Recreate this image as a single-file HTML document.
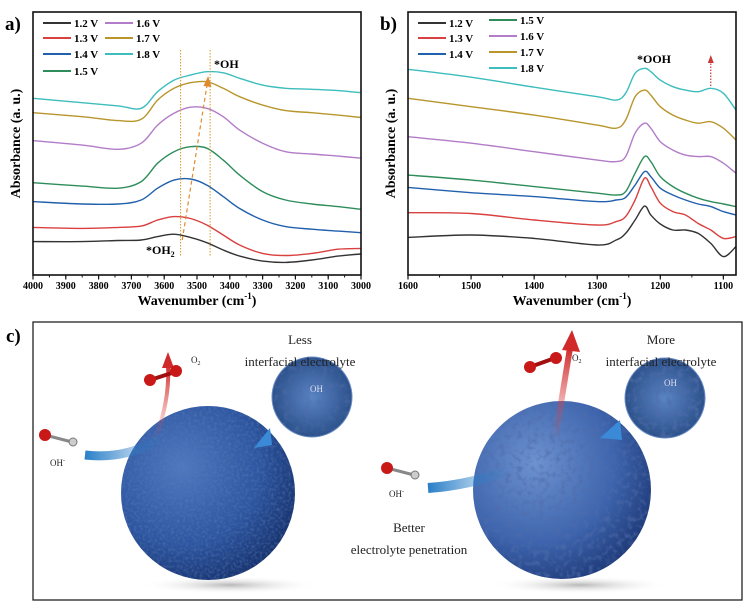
<!DOCTYPE html>
<html><head><meta charset="utf-8">
<style>
body{margin:0;background:#fff;}
svg{display:block;font-family:"Liberation Serif",serif;}
.tk{font-size:10px;font-weight:bold;text-anchor:middle;}
.lg{font-size:11px;font-weight:bold;}
.ax{font-size:14px;font-weight:bold;}
</style></head>
<body>
<svg id="fig" width="750" height="612" viewBox="0 0 750 612">
<defs>
<radialGradient id="sph1" cx="35%" cy="35%" r="75%">
<stop offset="0" stop-color="#4f78c0"/><stop offset="0.6" stop-color="#2d55a0"/><stop offset="1" stop-color="#142d66"/></radialGradient>
<radialGradient id="sph2" cx="35%" cy="35%" r="75%">
<stop offset="0" stop-color="#6e92cf"/><stop offset="0.6" stop-color="#3d64ad"/><stop offset="1" stop-color="#1b3572"/></radialGradient>
<radialGradient id="zoomg" cx="50%" cy="50%" r="60%">
<stop offset="0" stop-color="#5a84c4"/><stop offset="1" stop-color="#23477f"/></radialGradient>
<radialGradient id="shadow" cx="50%" cy="50%" r="50%">
<stop offset="0" stop-color="#999" stop-opacity="0.7"/><stop offset="1" stop-color="#fff" stop-opacity="0"/></radialGradient>
<linearGradient id="redarrow" x1="0" y1="1" x2="0" y2="0">
<stop offset="0" stop-color="#e05050" stop-opacity="0"/><stop offset="1" stop-color="#d02a2a"/></linearGradient>
<linearGradient id="bluearrow" x1="0" y1="0" x2="1" y2="0">
<stop offset="0" stop-color="#2a7fc8"/><stop offset="1" stop-color="#2a7fc8" stop-opacity="0"/></linearGradient>
<filter id="tex1" x="0" y="0" width="100%" height="100%">
<feTurbulence type="fractalNoise" baseFrequency="0.35" numOctaves="2" seed="3"/>
<feColorMatrix type="matrix" values="0 0 0 0 0.1  0 0 0 0 0.2  0 0 0 0 0.45  0 0 0 -2.2 1.3"/>
<feComposite in2="SourceGraphic" operator="in"/>
</filter>
<filter id="tex2" x="0" y="0" width="100%" height="100%">
<feTurbulence type="fractalNoise" baseFrequency="0.18" numOctaves="2" seed="7"/>
<feColorMatrix type="matrix" values="0 0 0 0 0.08  0 0 0 0 0.15  0 0 0 0 0.4  0 0 0 -3 1.6"/>
<feComposite in2="SourceGraphic" operator="in"/>
</filter>
</defs>
<g id="panelA"></g>
<g id="panelB"></g>

<!-- Panel c -->
<g>
<text x="6" y="342" font-size="19" font-weight="bold">c)</text>
<rect x="33" y="322" width="709" height="278" fill="#fff" stroke="#222" stroke-width="1.3"/>
<ellipse cx="230" cy="585" rx="90" ry="9" fill="url(#shadow)"/>
<ellipse cx="580" cy="585" rx="90" ry="9" fill="url(#shadow)"/>
<circle cx="208" cy="493" r="87" fill="url(#sph1)"/>
<circle cx="208" cy="493" r="87" fill="#000" filter="url(#tex1)" opacity="0.5"/>
<circle cx="562" cy="490" r="89" fill="url(#sph2)"/>
<circle cx="562" cy="490" r="89" fill="#000" filter="url(#tex2)" opacity="0.6"/>
<path d="M85 455 Q130 460 165 435" stroke="url(#bluearrow)" stroke-width="9" fill="none"/>
<path d="M155 440 Q170 400 168 365" stroke="url(#redarrow)" stroke-width="4" fill="none"/>
<polygon points="162,368 174,368 168,352" fill="#d02a2a"/>
<path d="M428 488 Q470 485 510 470" stroke="url(#bluearrow)" stroke-width="10" fill="none"/>
<path d="M555 440 L570 348" stroke="url(#redarrow)" stroke-width="6" fill="none"/>
<polygon points="562,350 580,352 572,330" fill="#d02a2a"/>
<polygon points="254,448 270,428 272,445" fill="#3a8ad8"/>
<polygon points="600,438 620,420 622,440" fill="#3a8ad8"/>
<circle cx="312" cy="397" r="40" fill="url(#zoomg)" stroke="#6a8cc4"/>
<circle cx="312" cy="397" r="40" fill="#000" filter="url(#tex2)" opacity="0.5"/>
<circle cx="665" cy="398" r="40" fill="url(#zoomg)" stroke="#6a8cc4"/>
<circle cx="665" cy="398" r="40" fill="#000" filter="url(#tex2)" opacity="0.7"/>
<text x="310" y="392" font-size="9" fill="#dde">OH</text>
<text x="664" y="386" font-size="9" fill="#dde">OH</text>
<g><line x1="150" y1="380" x2="175" y2="372" stroke="#a01010" stroke-width="4"/><circle cx="150" cy="380" r="6" fill="#c81818"/><circle cx="176" cy="371" r="6" fill="#c81818"/></g>
<g><line x1="530" y1="367" x2="555" y2="358" stroke="#a01010" stroke-width="4"/><circle cx="530" cy="367" r="6" fill="#c81818"/><circle cx="556" cy="358" r="6" fill="#c81818"/></g>
<g><line x1="45" y1="435" x2="72" y2="442" stroke="#888" stroke-width="3"/><circle cx="45" cy="435" r="6" fill="#c81818"/><circle cx="73" cy="442" r="4" fill="#ccc" stroke="#777"/></g>
<g><line x1="387" y1="468" x2="414" y2="475" stroke="#888" stroke-width="3"/><circle cx="387" cy="468" r="6" fill="#c81818"/><circle cx="415" cy="475" r="4" fill="#ccc" stroke="#777"/></g>
<g font-size="13" fill="#222" text-anchor="middle">
<text x="300" y="344">Less</text>
<text x="300" y="366">interfacial electrolyte</text>
<text x="661" y="344">More</text>
<text x="661" y="366">interfacial electrolyte</text>
<text x="409" y="532">Better</text>
<text x="409" y="554">electrolyte penetration</text>
</g>
<g font-size="9" fill="#222">
<text x="191" y="363">O<tspan font-size="6" dy="2">2</tspan></text>
<text x="572" y="361">O<tspan font-size="6" dy="2">2</tspan></text>
<text x="50" y="466">OH<tspan font-size="6" dy="-4">-</tspan></text>
<text x="389" y="497">OH<tspan font-size="6" dy="-4">-</tspan></text>
</g>
</g>
</svg>
<script>
// ---------- Panel a data ----------
const waveA = [4000,3850,3740,3670,3620,3570,3520,3470,3420,3370,3300,3230,3150,3070,3000];
const a12 = [.127,.127,.131,.133,.146,.155,.143,.123,.095,.072,.053,.048,.057,.072,.080];
const a13 = [.181,.177,.181,.186,.209,.222,.215,.190,.152,.114,.082,.074,.082,.098,.101];
const a14 = [.279,.270,.270,.285,.330,.361,.365,.342,.298,.253,.209,.184,.174,.167,.161];
const a15 = [.351,.338,.330,.355,.425,.469,.488,.482,.437,.380,.317,.285,.270,.260,.250];
const a16 = [.511,.494,.478,.501,.570,.615,.638,.634,.602,.551,.501,.469,.460,.452,.444];
const a17 = [.617,.602,.587,.592,.665,.710,.731,.735,.710,.678,.646,.625,.617,.608,.599];
const a18 = [.672,.655,.643,.634,.697,.741,.760,.773,.769,.748,.722,.710,.706,.701,.693];
const ticksA = [4000,3900,3800,3700,3600,3500,3400,3300,3200,3100,3000];
// ---------- Panel b data ----------
const waveB = [1600,1500,1400,1300,1270,1255,1240,1225,1215,1200,1180,1160,1140,1120,1100,1080];
const b12 = [.143,.152,.139,.114,.133,.158,.209,.262,.228,.194,.171,.171,.158,.120,.070,.108];
const b13 = [.237,.234,.209,.190,.203,.222,.285,.368,.336,.273,.241,.228,.196,.171,.139,.146];
const b14 = [.333,.313,.298,.279,.285,.295,.342,.393,.374,.330,.304,.285,.270,.260,.241,.228];
const b15 = [.380,.361,.336,.311,.304,.317,.387,.450,.431,.374,.336,.311,.292,.279,.270,.260];
const b16 = [.526,.501,.469,.437,.431,.450,.539,.577,.558,.507,.475,.456,.450,.450,.425,.387];
const b17 = [.672,.640,.608,.570,.558,.589,.678,.703,.684,.640,.608,.589,.577,.583,.558,.513];
const b18 = [.782,.752,.714,.678,.665,.691,.767,.786,.773,.741,.716,.703,.697,.710,.691,.627];
const ticksB = [1600,1500,1400,1300,1200,1100];
const seriesLabels = ["1.2 V","1.3 V","1.4 V","1.5 V","1.6 V","1.7 V","1.8 V"];
const colors = ["#333333","#d8413f","#2160ad","#2e8d5a","#b27cc8","#b8962c","#3dbdbd"];

const NS="http://www.w3.org/2000/svg";
function mk(tag,attrs,parent){const e=document.createElementNS(NS,tag);for(const k in attrs)e.setAttribute(k,attrs[k]);parent.appendChild(e);return e;}
function smooth(pts){let d="M"+pts[0][0].toFixed(1)+" "+pts[0][1].toFixed(1);
 for(let i=0;i<pts.length-1;i++){const p0=pts[Math.max(0,i-1)],p1=pts[i],p2=pts[i+1],p3=pts[Math.min(pts.length-1,i+2)];
  const c1=[p1[0]+(p2[0]-p0[0])/6,p1[1]+(p2[1]-p0[1])/6],c2=[p2[0]-(p3[0]-p1[0])/6,p2[1]-(p3[1]-p1[1])/6];
  d+=" C"+c1[0].toFixed(1)+" "+c1[1].toFixed(1)+" "+c2[0].toFixed(1)+" "+c2[1].toFixed(1)+" "+p2[0].toFixed(1)+" "+p2[1].toFixed(1);}
 return d;}

function panel(g,x0,x1,w0,w1,wave,series,ticks,label,minorStep,legendPos){
 const yTop=12,yBot=275;
 const X=w=>x0+(w0-w)/(w0-w1)*(x1-x0);
 const Y=v=>yBot-v*(yBot-yTop);
 const lab=mk('text',{x:x0-28,y:30,'font-size':19,'font-weight':'bold'},g);lab.textContent=label;
 
 
 series.forEach((s,i)=>{
  const p=mk('path',{d:smooth(wave.map((w,j)=>[X(w),Y(s[j])])),fill:'none',stroke:colors[i],'stroke-width':1.4},g);
  
  
 });
 const fr=mk('rect',{x:x0,y:yTop,width:x1-x0,height:yBot-yTop,fill:'none',stroke:'#111','stroke-width':1.6},g);
 
 
 for(let w=w0;w>=w1-0.1;w-=minorStep){const xx=X(w);if(xx>x1+0.5)break;mk('line',{x1:xx,x2:xx,y1:yBot,y2:yBot+2.5,stroke:'#111','stroke-width':1},g);}
 ticks.forEach(t=>{const xx=X(t);
  mk('line',{x1:xx,x2:xx,y1:yBot,y2:yBot+4.5,stroke:'#111','stroke-width':1.2},g);
  const tx=mk('text',{x:xx,y:yBot+14,class:'tk'},g);tx.textContent=t;
  
  });
 const xt=mk('text',{x:(x0+x1)/2,y:yBot+30,class:'ax','text-anchor':'middle'},g);
 xt.innerHTML='Wavenumber (cm<tspan font-size="9" dy="-6">-1</tspan><tspan dy="6">)</tspan>';
 
 
 const yt=mk('text',{x:0,y:0,class:'ax','text-anchor':'middle',transform:`translate(${x0-13},${(yTop+yBot)/2}) rotate(-90)`},g);
 yt.textContent='Absorbance (a. u.)';
 
 
 legendPos.forEach((lp,i)=>{
  const lg=mk('g',{},g);
  
  
  mk('line',{x1:lp[0],x2:lp[0]+28,y1:lp[1],y2:lp[1],stroke:colors[i],'stroke-width':2},lg);
  const t=mk('text',{x:lp[0]+31,y:lp[1]+4,class:'lg'},lg);t.textContent=seriesLabels[i];
 });
 return {X,Y};
}
const gA=document.getElementById('panelA');
const A=panel(gA,33,361,4000,3000,waveA,[a12,a13,a14,a15,a16,a17,a18],ticksA,'a)',50,
 [[43,23],[43,38],[43,54],[43,71],[105,23],[105,38],[105,54]]);
const gB=document.getElementById('panelB');
const B=panel(gB,408,736,1600,1080,waveB,[b12,b13,b14,b15,b16,b17,b18],ticksB,'b)',50,
 [[418,23],[418,38],[418,54],[489,20],[489,36],[489,52],[489,68]]);

// annotations panel a
[3550,3460].forEach(w=>{const l=mk('line',{x1:A.X(w),x2:A.X(w),y1:50,y2:256,stroke:'#d39a2a','stroke-width':1,'stroke-dasharray':'1.5 1.5'},gA);
 
 });
const ar=mk('line',{x1:A.X(3545),y1:240,x2:A.X(3468),y2:82,stroke:'#e08a30','stroke-width':1.2,'stroke-dasharray':'4 3'},gA);


mk('polygon',{points:`${A.X(3468)-4},86 ${A.X(3468)+4},87 ${A.X(3466)},76`,fill:'#e08a30'},gA);
const t1=mk('text',{x:214,y:68,'font-size':12,'font-weight':'bold'},gA);t1.textContent='*OH';


const t2=mk('text',{x:146,y:254,'font-size':12,'font-weight':'bold'},gA);t2.innerHTML='*OH<tspan font-size="8" dy="3">2</tspan>';


// annotations panel b
const ob=mk('line',{x1:B.X(1120),x2:B.X(1120),y1:86,y2:62,stroke:'#c83a3a','stroke-width':1.2,'stroke-dasharray':'1.5 1.5'},gB);


mk('polygon',{points:`${B.X(1120)-3},63 ${B.X(1120)+3},63 ${B.X(1120)},55`,fill:'#c83a3a'},gB);
const t3=mk('text',{x:637,y:63,'font-size':12,'font-weight':'bold'},gB);t3.textContent='*OOH';


</script>
</body></html>
